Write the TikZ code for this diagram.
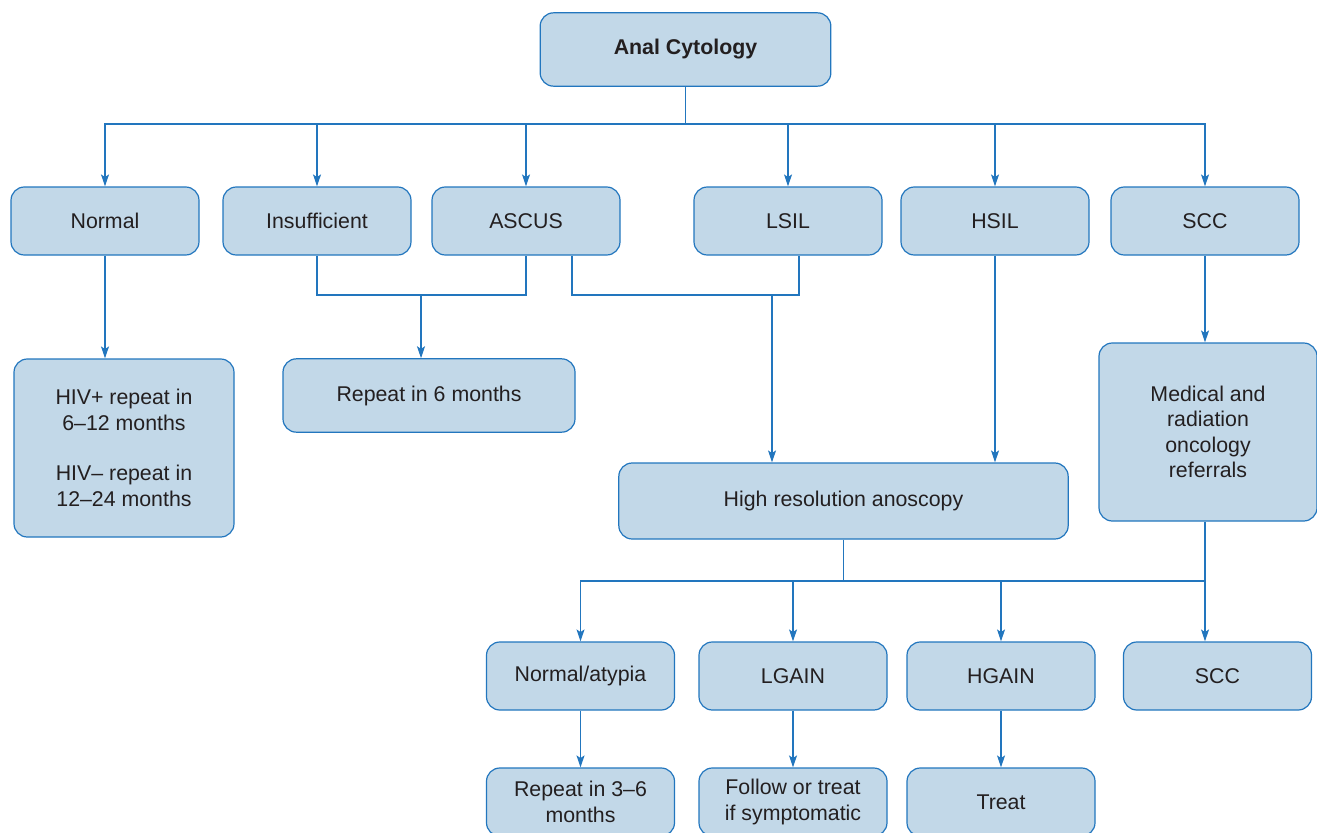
\documentclass[tikz,border=0pt]{standalone}
\usepackage{fontspec}
\setmainfont{Liberation Sans}
\usetikzlibrary{arrows.meta}
\definecolor{boxfill}{RGB}{194,216,232}
\definecolor{boxline}{RGB}{34,118,190}
\definecolor{txtcol}{RGB}{35,31,32}
\tikzset{>={Stealth[length=9pt, width=6pt, inset=2pt]}}

\begin{document}
\begin{tikzpicture}[x=0.75pt, y=-0.75pt, line width=0.9pt,
    box/.style={draw=boxline, fill=boxfill, rounded corners=10pt, align=center,
        text=txtcol, inner sep=0pt, font=\fontsize{16}{19}\selectfont},
    row/.style={box, minimum width=141pt, minimum height=51pt},
    link/.style={draw=boxline}]
    \useasboundingbox (0,0) rectangle (1317,832);
    \clip (0,0) rectangle (1317,832);

    \node[box, minimum width=218pt, minimum height=55pt, font=\fontsize{16}{19}\selectfont\bfseries]
        (anal) at (685.5,49.5) {Anal Cytology};

    \node[row] (normal) at (105,221) {Normal};
    \node[row] (insuff) at (317,221) {Insufficient};
    \node[row] (ascus) at (526,221) {ASCUS};
    \node[row] (lsil) at (788,221) {LSIL};
    \node[row] (hsil) at (995,221) {HSIL};
    \node[row] (scc) at (1205,221) {SCC};

    \node[box, minimum width=165pt, minimum height=133.5pt] (hiv) at (124,448)
        {HIV+ repeat in\\6--12 months\\[19pt]HIV-- repeat in\\12--24 months};
    \node[box, minimum width=219pt, minimum height=55pt] (rep6) at (429,395.5) {Repeat in 6 months};
    \node[box, minimum width=337pt, minimum height=57pt] (hra) at (843.5,501) {High resolution anoscopy};
    \node[box, minimum width=163.5pt, minimum height=133.5pt] (med) at (1208,432)
        {Medical and\\radiation\\oncology\\referrals};

    \node[row] (natyp) at (580.5,676) {Normal/atypia};
    \node[row] (lgain) at (793,676) {LGAIN};
    \node[row] (hgain) at (1001,676) {HGAIN};
    \node[row] (sccb) at (1217.5,676) {SCC};

    \node[row] (rep36) at (580.5,802) {Repeat in 3--6\\months};
    \node[row] (follow) at (793,802) {Follow or treat\\if symptomatic};
    \node[row] (treat) at (1001,802) {Treat};

    \coordinate (bus1) at (685.5,124);
    \coordinate (join1) at (421,295);
    \coordinate (join2) at (772,295);
    \coordinate (bus2) at (843.5,581);
    \coordinate (bus3) at (scc.south |- bus2);

    \draw[link] (anal) -- (bus1);
    \foreach \n in {normal,insuff,ascus,lsil,hsil,scc}
        \draw[link, ->] (bus1) -| (\n);

    \draw[link, ->] (normal) -- (hiv.north -| normal.south);
    \draw[link] (insuff) |- (join1) -| (ascus);
    \draw[link, ->] (join1) -- (join1 |- rep6.north);
    \draw[link] ([xshift=34.5pt]ascus.south) |- (join2) -| ([xshift=8.25pt]lsil.south);
    \draw[link, ->] (join2) -- (join2 |- hra.north);
    \draw[link, ->] (hsil) -- (hsil.south |- hra.north);
    \draw[link, ->] (scc) -- (scc.south |- med.north);

    \draw[link] (hra) -- (bus2) -- (bus3);
    \foreach \n in {natyp,lgain,hgain}
        \draw[link, ->] (bus2) -| (\n);
    \draw[link, ->] (med.south -| bus3) -- (bus3 |- sccb.north);

    \draw[link, ->] (natyp) -- (rep36);
    \draw[link, ->] (lgain) -- (follow);
    \draw[link, ->] (hgain) -- (treat);
\end{tikzpicture}
\end{document}
